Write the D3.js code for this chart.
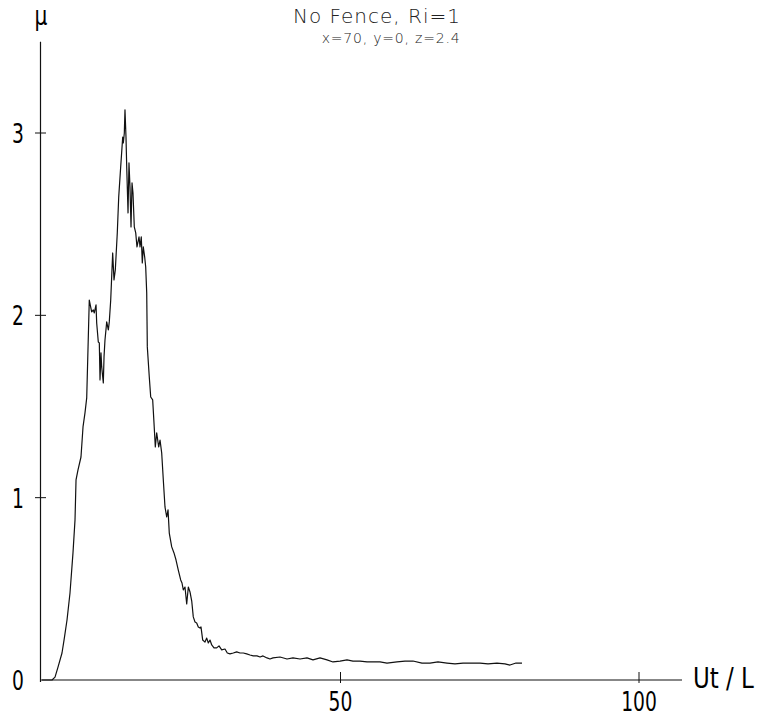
<!DOCTYPE html>
<html>
<head>
<meta charset="utf-8">
<script src="https://cdnjs.cloudflare.com/ajax/libs/d3/7.8.5/d3.min.js"></script>
<style>
	body { margin: 0; background: #fff; }
	#chartContainer { width: 762px; height: 719px; }
</style>
</head>
<body>
<div id="chartContainer"></div>
<script>
// Values: Ut/L (x) and mu (y)
var ut = [0, 0.33, 1.68, 2.18, 2.68, 3.35, 3.69, 4.19, 4.69, 5.19, 5.53, 5.70, 6.03, 6.53, 6.87, 7.20, 7.49,
	7.92, 8.32, 8.59, 8.76, 9.05, 9.16, 9.43, 9.60, 9.72, 9.88, 10.00, 10.27, 10.39, 10.55, 10.84, 11.11, 11.27,
	11.51, 11.84, 12.06, 12.28, 12.61, 12.85, 13.18, 13.52, 13.62, 13.79, 13.90, 14.07, 14.19, 14.41, 14.57,
	14.74, 14.91, 15.08, 15.24, 15.46, 15.70, 15.91, 16.25, 16.42, 16.63, 16.80, 16.97, 17.20, 17.37, 17.54,
	17.64, 17.97, 18.21, 18.54, 18.76, 18.98, 19.21, 19.55, 19.77, 20.05, 20.32, 20.60, 20.89, 21.11, 21.32,
	21.73, 22.11, 22.45, 22.83, 23.23, 23.45, 23.67, 23.95, 24.24, 24.51, 24.79, 25.08, 25.34, 25.63, 25.91,
	26.18, 26.47, 26.63, 26.92, 27.30, 27.59, 27.86, 28.14, 28.43, 28.81, 29.26, 29.65, 30.10, 30.65, 31.04,
	31.49, 32.04, 32.61, 33.17, 33.72, 34.29, 34.84, 35.39, 36.01, 36.52, 37.02, 37.69, 38.19, 38.69, 39.87,
	41.04, 42.04, 43.22, 44.39, 45.39, 46.57, 47.74, 48.74, 49.92, 51.09, 52.09, 53.27, 54.44, 55.44, 56.62,
	57.79, 59.46, 60.80, 62.14, 63.65, 64.99, 66.33, 67.84, 69.18, 70.52, 72.03, 73.37, 74.71, 76.21, 77.55,
	78.39, 79.40, 80.40];
var mu = [0, 0, 0, 0.016, 0.071, 0.148, 0.219, 0.329, 0.477, 0.697, 0.878, 1.097, 1.152, 1.223, 1.388, 1.465, 1.547,
	2.084, 2.019, 2.030, 2.013, 2.057, 1.958, 1.854, 1.849, 1.646, 1.794, 1.717, 1.629, 1.772, 1.865, 1.964, 1.920, 1.964,
	2.084, 2.342, 2.194, 2.249, 2.452, 2.649, 2.814, 2.978, 2.946, 3.000, 3.127, 2.978, 2.814, 2.562, 2.836,
	2.704, 2.485, 2.726, 2.671, 2.485, 2.452, 2.375, 2.430, 2.375, 2.430, 2.287, 2.375, 2.320, 2.265, 2.123,
	1.827, 1.662, 1.552, 1.536, 1.410, 1.278, 1.355, 1.278, 1.316, 1.245, 1.097, 0.949, 0.894, 0.933, 0.806,
	0.730, 0.697, 0.658, 0.603, 0.549, 0.532, 0.494, 0.510, 0.417, 0.510, 0.483, 0.433, 0.346, 0.318, 0.313,
	0.291, 0.285, 0.291, 0.219, 0.208, 0.230, 0.203, 0.219, 0.192, 0.176, 0.176, 0.187, 0.165, 0.170, 0.148,
	0.143, 0.148, 0.154, 0.148, 0.148, 0.143, 0.137, 0.132, 0.132, 0.126, 0.132, 0.121, 0.115, 0.121, 0.126,
	0.115, 0.121, 0.115, 0.121, 0.110, 0.121, 0.110, 0.099, 0.104, 0.110, 0.104, 0.104, 0.099, 0.099, 0.099,
	0.093, 0.099, 0.104, 0.104, 0.093, 0.093, 0.099, 0.093, 0.088, 0.093, 0.093, 0.093, 0.088, 0.093, 0.088,
	0.082, 0.093, 0.093];

var x_ticks = [50, 100];
var y_ticks = [0, 1, 2, 3];
var title_text = 'No Fence, Ri=1';
var subtitle_text = 'x=70, y=0, z=2.4';
var x_label = 'Ut / L';
var y_label = 'μ';

/***********************************************************
  Start: Setup
***********************************************************/
var num_font = '"DejaVu Sans", "Liberation Sans", sans-serif';
var thin_font = '"DejaVu Sans", "Liberation Sans", sans-serif';

var svg = d3.select('#chartContainer')
	.append('svg')
	.attr('width', 762)
	.attr('height', 719);

var x_scale = d3.scaleLinear().domain([0, 100]).range([42, 639]);
var y_scale = d3.scaleLinear().domain([0, 3]).range([680, 133]);
/***********************************************************
  End: Setup
***********************************************************/

// Axes lines
svg.append('line')
	.attr('x1', x_scale(0) - 2).attr('x2', 682)
	.attr('y1', y_scale(0)).attr('y2', y_scale(0))
	.attr('stroke', '#111').attr('stroke-width', 1.2);
svg.append('line')
	.attr('x1', x_scale(0) - 1.5).attr('x2', x_scale(0) - 1.5)
	.attr('y1', y_scale(0) + 2).attr('y2', y_scale(3.5))
	.attr('stroke', '#111').attr('stroke-width', 1.2);

// X ticks, labels squeezed to the narrow look of the original
x_ticks.forEach(function(t) {
	svg.append('line')
		.attr('x1', x_scale(t)).attr('x2', x_scale(t))
		.attr('y1', y_scale(0) - 8).attr('y2', y_scale(0) + 3)
		.attr('stroke', '#111').attr('stroke-width', 1);
	svg.append('text')
		.text(t)
		.attr('transform', 'translate(' + x_scale(t) + ',' + (y_scale(0) + 31) + ') scale(0.72,1)')
		.style('text-anchor', 'middle')
		.style('font-family', num_font)
		.style('font-size', '26px');
});

// Y ticks
y_ticks.forEach(function(t) {
	if (t > 0) {
		svg.append('line')
			.attr('x1', x_scale(0) - 7).attr('x2', x_scale(0) + 4)
			.attr('y1', y_scale(t)).attr('y2', y_scale(t))
			.attr('stroke', '#111').attr('stroke-width', 1);
	}
	svg.append('text')
		.text(t)
		.attr('transform', 'translate(18,' + (y_scale(t) + 10) + ') scale(0.72,1)')
		.style('text-anchor', 'middle')
		.style('font-family', num_font)
		.style('font-size', '26px');
});

// Axis labels
svg.append('text')
	.text(x_label)
	.attr('transform', 'translate(693,688) scale(0.82,1)')
	.style('font-family', num_font)
	.style('font-size', '28px');
svg.append('text')
	.text(y_label)
	.attr('transform', 'translate(41,25) scale(0.75,1)')
	.style('text-anchor', 'middle')
	.style('font-family', num_font)
	.style('font-size', '27px');

// Title
svg.append('text')
	.text(title_text)
	.attr('x', 377)
	.attr('y', 23)
	.style('text-anchor', 'middle')
	.style('font-family', thin_font)
	.style('font-weight', 200)
	.style('font-size', '20px')
	.style('letter-spacing', '1px')
	.style('fill', '#222');
svg.append('text')
	.text(subtitle_text)
	.attr('x', 391)
	.attr('y', 43)
	.style('text-anchor', 'middle')
	.style('font-family', thin_font)
	.style('font-weight', 200)
	.style('font-size', '14px')
	.style('letter-spacing', '0.8px')
	.style('fill', '#222');

// The curve
var line = d3.line()
	.x(function(d, i) { return x_scale(ut[i]); })
	.y(function(d, i) { return y_scale(mu[i]); });
svg.append('path')
	.datum(ut)
	.attr('d', line)
	.attr('fill', 'none')
	.attr('stroke', '#111')
	.attr('stroke-width', 1.2)
	.attr('stroke-linejoin', 'round');
</script>
</body>
</html>
